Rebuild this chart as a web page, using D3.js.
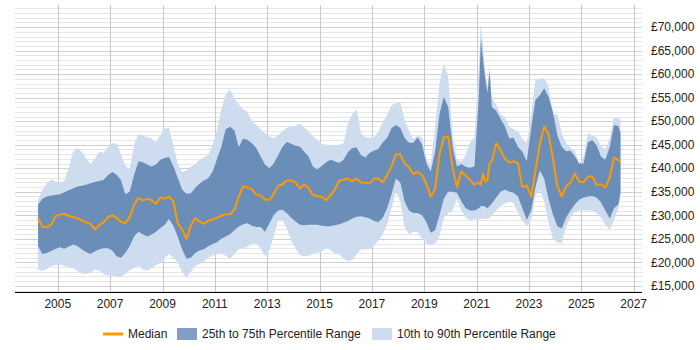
<!DOCTYPE html>
<html>
<head>
<meta charset="utf-8">
<script src="https://cdn.jsdelivr.net/npm/d3@7"></script>
<style>
body { margin: 0; background: #fff; }
svg text { font-family: "Liberation Sans", Arial, sans-serif; }
</style>
</head>
<body>
<script>
var width = 700, height = 350;
var plotLeft = 15, plotRight = 642, plotTop = 5, plotBottom = 292;

// sample months (bi-monthly, monthly around the 2021 spike)
var dates = [
  "2004-04","2004-06","2004-08","2004-10","2004-12",
  "2005-02","2005-04","2005-06","2005-08","2005-10","2005-12",
  "2006-02","2006-04","2006-06","2006-08","2006-10","2006-12",
  "2007-02","2007-04","2007-06","2007-08","2007-10","2007-12",
  "2008-02","2008-04","2008-06","2008-08","2008-10","2008-12",
  "2009-02","2009-04","2009-06","2009-08","2009-10","2009-12",
  "2010-02","2010-04","2010-06","2010-08","2010-10","2010-12",
  "2011-02","2011-04","2011-06","2011-08","2011-10","2011-12",
  "2012-02","2012-04","2012-06","2012-08","2012-10","2012-12",
  "2013-02","2013-04","2013-06","2013-08","2013-10","2013-12",
  "2014-02","2014-04","2014-06","2014-08","2014-10","2014-12",
  "2015-02","2015-04","2015-06","2015-08","2015-10","2015-12",
  "2016-02","2016-04","2016-06","2016-08","2016-10","2016-12",
  "2017-02","2017-04","2017-06","2017-08","2017-10","2017-12",
  "2018-02","2018-04","2018-06","2018-08","2018-10","2018-12",
  "2019-02","2019-04","2019-06","2019-08","2019-10","2019-12",
  "2020-02","2020-04","2020-06","2020-08","2020-10","2020-12",
  "2021-02","2021-03","2021-04","2021-05","2021-06","2021-07","2021-08","2021-10","2021-12",
  "2022-02","2022-04","2022-06","2022-08","2022-10","2022-12",
  "2023-02","2023-04","2023-06","2023-08","2023-10","2023-12",
  "2024-02","2024-04","2024-06","2024-08","2024-10","2024-12",
  "2025-02","2025-04","2025-06","2025-08","2025-10","2025-12",
  "2026-02","2026-04","2026-06","2026-07"
];

// salaries in £ thousands
var p90 = [
  33.3, 35.5, 36.8, 37.6, 37.2,
  37.0, 37.3, 40.0, 43.5, 44.3, 43.5,
  42.0, 40.9, 42.0, 43.5, 43.3, 44.5,
  45.3, 45.2, 43.0, 40.6, 39.8, 45.0,
  47.3, 46.9, 46.6, 46.3, 45.5, 47.0,
  48.4, 48.6, 45.0, 41.0, 39.2, 39.5,
  40.3, 40.8, 41.8, 42.3, 42.8, 45.0,
  48.0, 52.5, 55.8, 56.8, 54.8, 53.6,
  52.5, 52.0, 50.0, 49.2, 48.3, 47.4,
  46.8, 46.4, 47.0, 47.8, 48.6, 48.9,
  49.0, 49.5, 48.7, 47.8, 46.8, 46.0,
  45.2, 45.0, 45.0, 44.8, 45.0, 45.3,
  49.5, 51.5, 52.5, 47.5, 46.6, 46.5,
  46.6, 47.8, 49.8, 51.3, 53.4, 53.8,
  54.0, 50.3, 48.0, 46.2, 46.9, 46.5,
  42.0, 40.8, 49.0, 58.0, 62.2, 59.5,
  47.0, 41.8, 41.5, 42.8, 45.5, 46.5,
  61.5, 70.8, 66.5, 60.0, 57.5, 62.0, 55.0, 53.5, 51.5,
  50.8, 48.8, 48.3, 47.8, 46.2, 45.3,
  51.5, 58.8, 59.0, 59.2, 57.5, 51.5,
  51.5, 47.5, 45.3, 44.3, 43.8, 41.0,
  42.5, 47.5, 47.0, 46.6, 44.8, 44.0,
  46.5, 50.7, 50.7, 50.3
];
var p75 = [
  32.3, 33.5, 34.0, 34.2, 34.3,
  34.5, 34.9, 35.3, 35.7, 36.1, 36.3,
  36.5, 36.8, 37.1, 37.3, 37.5, 38.5,
  39.2, 38.6, 37.5, 34.5, 35.0, 38.5,
  41.5, 41.3, 40.8, 40.4, 40.8, 41.8,
  42.2, 42.4, 40.5, 38.0, 35.5, 34.6,
  34.7, 35.8, 36.7, 37.4, 37.9, 39.3,
  42.0, 44.5, 48.3, 48.8, 48.0, 44.5,
  46.3, 46.0, 45.3, 44.3, 42.5, 40.8,
  40.0, 41.0, 42.7, 44.5, 45.6, 45.2,
  44.8, 44.6, 43.5, 42.5, 40.3, 39.8,
  40.5, 41.2, 41.8, 41.5, 41.1, 41.8,
  43.4, 44.3, 44.4, 42.8, 42.3, 43.3,
  43.8, 44.1, 45.5, 46.5, 48.5, 49.2,
  48.6, 46.5, 45.4, 45.4, 46.6, 45.0,
  41.0, 39.3, 43.5, 51.5, 55.2, 53.0,
  44.5, 40.4, 40.9, 40.3, 40.1, 40.4,
  55.3, 67.5, 63.0, 59.0, 56.0, 60.5, 53.0, 52.2, 50.5,
  48.8, 46.3, 46.5, 44.5, 43.5, 41.5,
  48.5, 54.5, 55.5, 57.0, 55.2, 52.0,
  47.0, 44.6, 43.6, 43.7, 42.6, 41.0,
  41.0, 45.5, 46.0, 44.9, 42.5, 41.8,
  44.5, 49.2, 49.0, 47.5
];
var median = [
  29.5, 27.5, 27.5, 28.0, 29.8,
  30.2, 30.3, 29.9, 29.6, 29.4, 28.9,
  28.5, 28.2, 27.0, 27.9, 28.5, 29.6,
  30.0, 29.5, 28.6, 28.3, 29.6, 32.2,
  33.7, 33.2, 33.5, 33.2, 32.4, 33.8,
  33.5, 34.0, 33.0, 28.3, 27.0, 25.0,
  27.8, 29.4, 28.7, 28.2, 28.8, 29.1,
  29.5, 29.9, 30.2, 30.2, 31.2, 34.0,
  36.2, 35.9, 35.5, 34.4, 34.2, 33.3,
  33.3, 34.5, 36.2, 36.6, 37.4, 37.4,
  37.0, 35.7, 36.5, 35.8, 34.3, 34.1,
  33.9, 33.2, 34.2, 35.5, 37.3, 37.6,
  37.8, 37.2, 37.8, 37.0, 36.9, 36.8,
  37.8, 37.8, 37.0, 38.6, 40.4, 42.9,
  43.0, 41.0, 40.2, 38.8, 39.2, 38.5,
  36.6, 34.0, 35.5, 43.0, 46.5, 46.8,
  40.0, 36.0, 39.3, 38.4, 37.5, 36.5,
  37.0, 36.5, 38.8, 37.2, 37.5, 41.1, 41.5, 45.3, 43.8,
  42.0, 41.2, 41.5, 41.0, 36.0, 36.3,
  34.0, 39.5, 45.2, 48.9, 47.3, 42.0,
  36.2, 34.0, 36.1, 36.9, 38.9, 37.2,
  37.0, 38.2, 38.3, 36.5, 36.6, 35.9,
  38.0, 42.3, 41.7, 41.5
];
var p25 = [
  23.4, 21.8, 22.0, 22.4, 22.9,
  23.2, 22.9, 23.3, 23.8, 23.5, 22.8,
  22.2, 21.8, 22.3, 22.8, 23.0, 23.0,
  22.5, 21.3, 21.0, 22.0, 23.5, 25.5,
  26.5, 26.0, 25.5, 25.9, 26.5, 27.3,
  28.0, 29.2, 27.8, 25.5, 22.8, 20.8,
  21.0, 22.0, 22.5, 22.8, 23.4, 23.9,
  24.3, 25.0, 25.5, 26.0, 26.8, 27.6,
  28.1, 28.3, 27.8, 27.5, 27.5, 26.5,
  28.3, 30.0, 31.0, 31.2, 30.5, 29.5,
  28.7, 28.0, 27.9, 28.0, 28.0, 28.0,
  27.8, 27.7, 27.7, 27.9, 28.1, 28.4,
  28.8, 29.3, 29.7, 29.8, 29.6, 29.3,
  28.8, 28.6, 29.5, 31.5, 34.5, 37.8,
  37.0, 33.0, 31.0, 30.5, 30.5, 30.0,
  28.5, 26.3, 26.8, 30.0, 33.5, 35.0,
  35.0, 34.8, 33.0, 31.5, 31.0, 31.0,
  31.5, 32.0, 32.0, 31.8, 31.5, 32.0, 32.5, 33.8, 35.0,
  35.5, 35.0, 34.8, 34.0, 31.5, 29.0,
  31.0, 36.0, 39.5, 37.8, 33.5, 30.2,
  27.7, 27.2, 29.5, 31.0, 32.3, 33.3,
  33.8, 34.0, 34.1, 33.8, 32.8, 31.0,
  29.3, 31.5, 32.3, 34.8
];
var p10 = [
  18.5, 18.2, 18.6, 19.2, 19.4,
  19.5, 19.3, 19.0, 18.8, 18.2, 17.6,
  17.5, 17.8, 18.5, 18.2, 17.5, 17.2,
  17.2, 17.0, 16.9, 17.5, 18.3, 18.8,
  19.2, 18.5, 18.2, 18.8, 19.4, 19.9,
  21.0, 21.8, 21.0, 20.0, 18.0, 16.7,
  18.0, 19.2, 19.6, 20.2, 21.0, 21.5,
  21.7, 22.0, 21.4, 20.8, 21.8, 22.8,
  23.0, 23.3, 24.0, 24.0, 23.0, 21.3,
  22.5, 25.5, 28.8, 29.0, 27.2, 24.6,
  23.0, 21.5, 21.3, 21.4, 21.8, 22.1,
  22.3, 23.0, 22.7, 21.9, 21.7, 20.8,
  20.3, 20.5, 21.7, 22.8, 22.8, 22.8,
  23.5, 24.7, 26.0, 28.0, 31.5, 35.0,
  33.0, 27.5, 26.0, 26.5, 26.5, 25.0,
  24.0, 23.7, 24.0, 25.5, 29.5, 30.5,
  31.0, 33.5, 31.0, 29.5, 29.0, 29.1,
  29.1, 29.3, 29.3, 29.2, 29.2, 29.5, 30.0, 31.0, 32.0,
  32.5, 33.0, 32.5, 30.5, 28.8, 27.7,
  29.0, 34.0, 35.3, 33.0, 28.5, 25.0,
  24.2, 24.0, 27.5, 29.5, 30.8, 31.0,
  31.0, 31.0, 31.0, 30.5, 29.5, 28.0,
  27.0, 29.0, 31.5, 34.0
];

var yearTicks = [2005, 2007, 2009, 2011, 2013, 2015, 2017, 2019, 2021, 2023, 2025, 2027];
var salaryTicks = [15, 20, 25, 30, 35, 40, 45, 50, 55, 60, 65, 70];
var legendLabels = ["Median", "25th to 75th Percentile Range", "10th to 90th Percentile Range"];

var parseMonth = d3.timeParse("%Y-%m");
var rows = dates.map(function(d, i) {
  return { date: parseMonth(d), p10: p10[i], p25: p25[i], median: median[i], p75: p75[i], p90: p90[i] };
});

var x = d3.scaleTime()
  .domain([new Date(2003, 4, 15), new Date(2027, 3, 27)])
  .range([plotLeft, plotRight]);

var y = d3.scaleLinear()
  .domain([13.7, 74.7])
  .range([plotBottom, plotTop]);

var svg = d3.select("body").append("svg")
  .attr("width", width)
  .attr("height", height);

// minor + major horizontal grid
var grid = svg.append("g").attr("shape-rendering", "crispEdges");
grid.selectAll(".minor")
  .data(d3.range(14, 75))
  .enter().append("line")
  .attr("x1", plotLeft).attr("x2", plotRight)
  .attr("y1", function(d) { return Math.round(y(d)) + 0.5; })
  .attr("y2", function(d) { return Math.round(y(d)) + 0.5; })
  .attr("stroke", function(d) { return d % 5 == 0 ? "#cfcfcf" : "#e6e6e6"; });

grid.selectAll(".vline")
  .data(yearTicks)
  .enter().append("line")
  .attr("x1", function(d) { return Math.round(x(new Date(d, 0, 1))) + 0.5; })
  .attr("x2", function(d) { return Math.round(x(new Date(d, 0, 1))) + 0.5; })
  .attr("y1", plotTop).attr("y2", plotBottom)
  .attr("stroke", "#c8c8c8");

// bands
var outer = d3.area()
  .x(function(d) { return x(d.date); })
  .y0(function(d) { return y(d.p10); })
  .y1(function(d) { return y(d.p90); });

var inner = d3.area()
  .x(function(d) { return x(d.date); })
  .y0(function(d) { return y(d.p25); })
  .y1(function(d) { return y(d.p75); });

svg.append("path").datum(rows)
  .attr("d", outer)
  .attr("fill", "#cddcee");

svg.append("path").datum(rows)
  .attr("d", inner)
  .attr("fill", "#6b8eb9");

var medLine = d3.line()
  .x(function(d) { return x(d.date); })
  .y(function(d) { return y(d.median); });

svg.append("path").datum(rows)
  .attr("d", medLine)
  .attr("fill", "none")
  .attr("stroke", "#ff9900")
  .attr("stroke-width", 2)
  .attr("stroke-linejoin", "round");

// x axis line + labels
svg.append("line")
  .attr("x1", plotLeft).attr("x2", plotRight)
  .attr("y1", plotBottom + 0.5).attr("y2", plotBottom + 0.5)
  .attr("stroke", "#000")
  .attr("shape-rendering", "crispEdges");

svg.selectAll(".xlab")
  .data(yearTicks)
  .enter().append("text")
  .attr("x", function(d) { return x(new Date(d, 0, 1)); })
  .attr("y", 308)
  .attr("text-anchor", "middle")
  .attr("font-size", "12px")
  .attr("fill", "#222")
  .text(function(d) { return d; });

var fmt = d3.format(",");
svg.selectAll(".ylab")
  .data(salaryTicks)
  .enter().append("text")
  .attr("x", 651)
  .attr("y", function(d) { return y(d); })
  .attr("dy", "0.35em")
  .attr("font-size", "12px")
  .attr("fill", "#222")
  .text(function(d) { return "£" + fmt(d * 1000); });

// legend
var legend = svg.append("g");
legend.append("line")
  .attr("x1", 103).attr("x2", 123).attr("y1", 334).attr("y2", 334)
  .attr("stroke", "#ff9900").attr("stroke-width", 3);
legend.append("text").attr("x", 128).attr("y", 338)
  .attr("font-size", "12px").attr("fill", "#222").text(legendLabels[0]);
legend.append("rect").attr("x", 177).attr("y", 328).attr("width", 20).attr("height", 12)
  .attr("fill", "#819fc4");
legend.append("text").attr("x", 202).attr("y", 338)
  .attr("font-size", "12px").attr("fill", "#222").text(legendLabels[1]);
legend.append("rect").attr("x", 372).attr("y", 328).attr("width", 20).attr("height", 12)
  .attr("fill", "#cddcee");
legend.append("text").attr("x", 397).attr("y", 338)
  .attr("font-size", "12px").attr("fill", "#222").text(legendLabels[2]);
</script>
</body>
</html>
